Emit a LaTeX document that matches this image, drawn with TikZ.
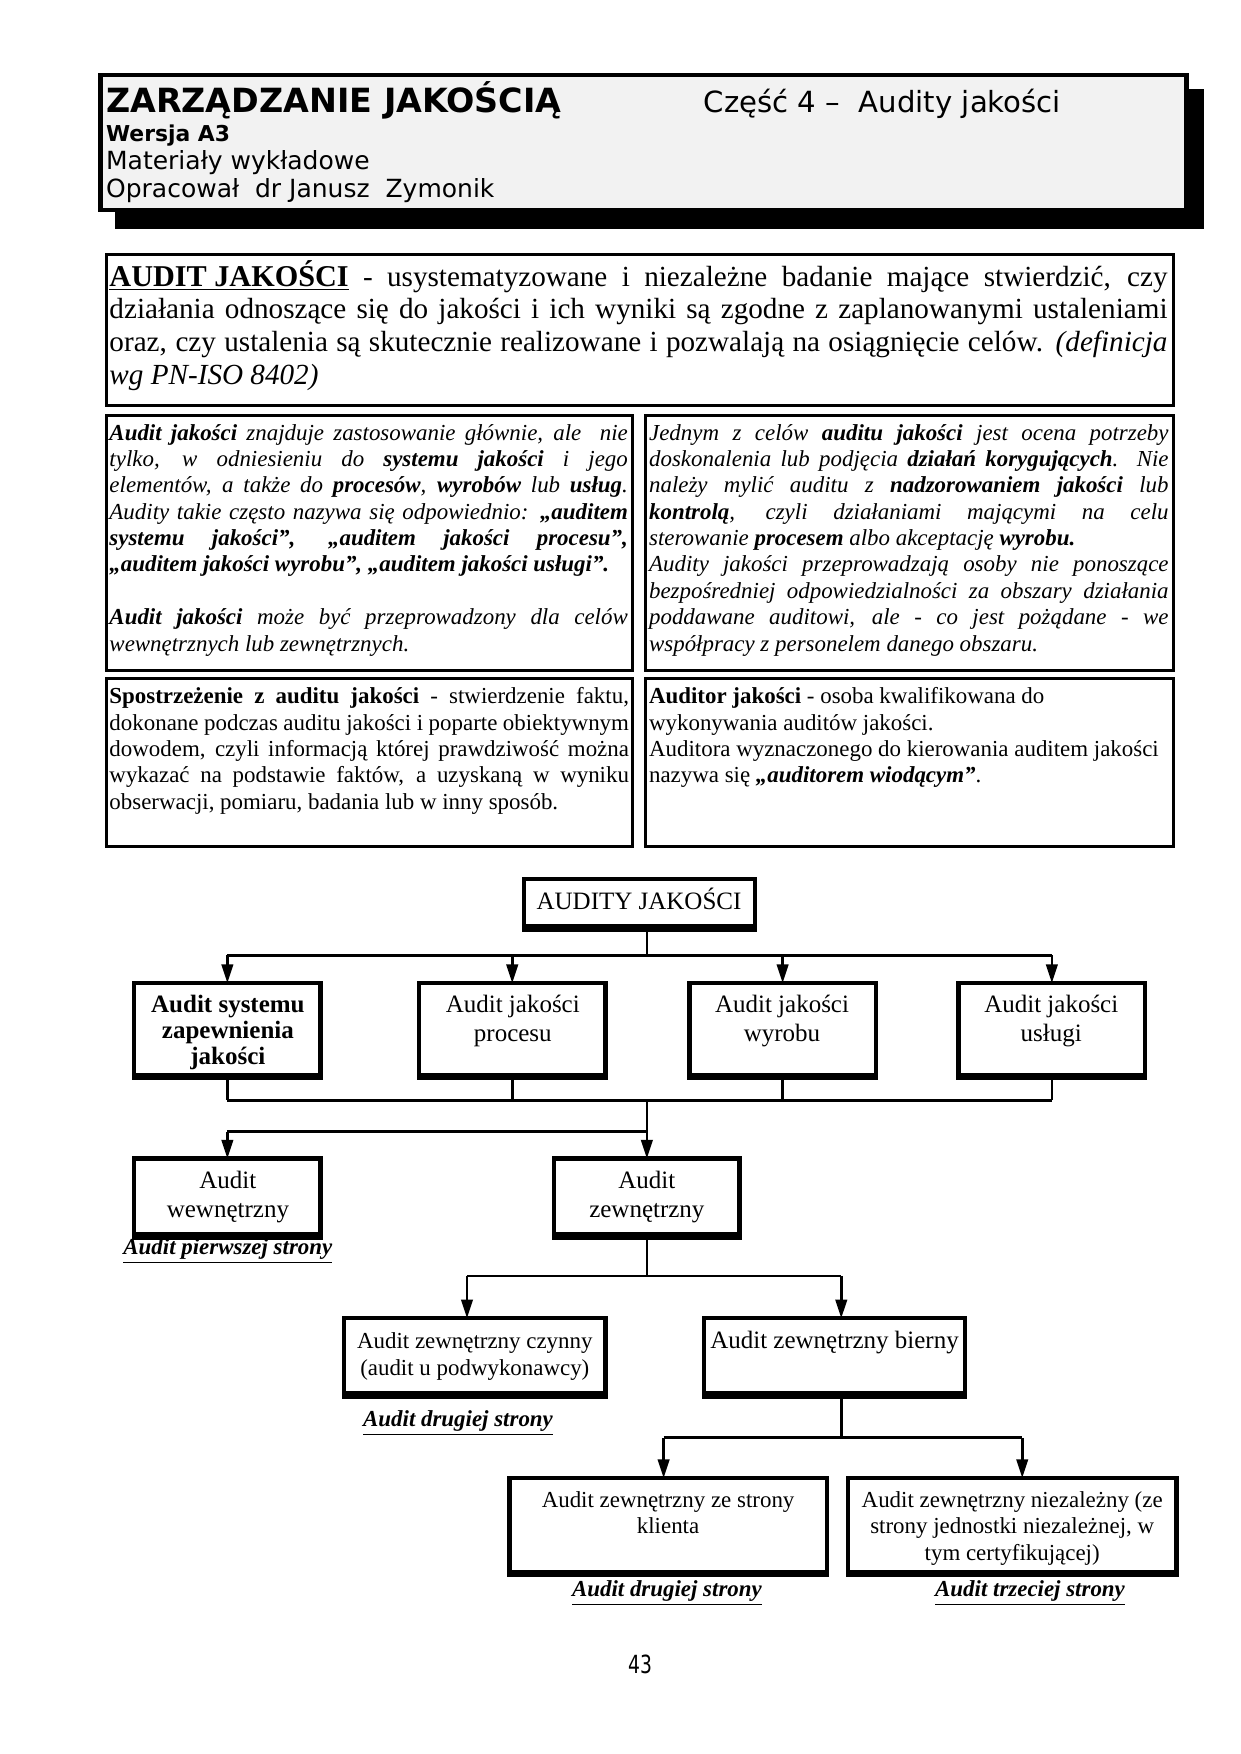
\documentclass[tikz,border=0pt]{standalone}
\usepackage{fontspec}
\setmainfont{Liberation Serif}
\newfontfamily\hdrfont{DejaVu Sans}
\newfontfamily\pgnfont{DejaVu Sans}[FakeStretch=0.75]
\usetikzlibrary{arrows.meta}
\definecolor{hdrgray}{HTML}{F2F2F2}
\newdimen\pxu \pxu=0.53629pt
\def\pxv{0.53629pt}
\newcommand\mkbox[6]{\node[#6, minimum width={(#4-#2)*\pxv}, minimum height={(#5-#3)*\pxv}] (#1) at ({(#2+#4)/2},{(#3+#5)/2}) {};}
\newcommand\cpar[4]{\parbox[t]{#1\pxu}{\centering\fontsize{#4}{#2}\selectfont #3}}
\newcommand\jl[1]{\makebox[\linewidth][s]{#1}}
\begin{document}
\begin{tikzpicture}[x=0.53629pt,y=-0.53629pt,
  frame/.style={draw, line width=2.1pt, inner sep=0pt, outer sep=0pt},
  tbox/.style={draw, line width=1.4pt, inner sep=0pt, outer sep=0pt},
  conn/.style={line width=1.3pt},
  arr/.style={line width=1.3pt, -{Triangle[length=9pt,width=5.5pt]}},
  txt/.style={inner sep=0pt, outer sep=0pt},
  lbl/.style={anchor=base, inner sep=0pt, font=\fontsize{11}{13}\selectfont}]
\useasboundingbox (0,0) rectangle (1110,1570);
\fill[white] (0,0) rectangle (1110,1570);

% ---------- header ----------
\fill[black] (103,80) rectangle (1078,205);
\mkbox{hdr}{90}{67}{1062}{188}{draw, line width=2pt, fill=hdrgray, inner sep=0pt}
\node[txt, anchor=base west, font=\hdrfont\bfseries\fontsize{16}{19}\selectfont] (h1) at (95,101) {ZARZĄDZANIE JAKOŚCIĄ};
\node[txt, anchor=base west, font=\hdrfont\fontsize{14}{17}\selectfont] (h2) at (630,101) {Część 4 –\ \ Audity jakości};
\node[txt, anchor=base west, font=\hdrfont\bfseries\fontsize{10.5}{13}\selectfont] (h3) at (95,127) {Wersja A3};
\node[txt, anchor=base west, font=\hdrfont\fontsize{12}{14}\selectfont] (h4) at (95,152) {Materiały wykładowe};
\node[txt, anchor=base west, font=\hdrfont\fontsize{12}{14}\selectfont] (h5) at (95,177) {Opracował\ \ dr Janusz\ \ Zymonik};

% ---------- definition box ----------
\mkbox{defbox}{95}{228}{1050}{363}{tbox}
\node[txt, anchor=base west] (deftext) at (98,256) {\parbox[t]{947\pxu}{\fontsize{14}{15.7}\selectfont
\jl{{\fontsize{14.5}{15.7}\selectfont\bfseries\underline{AUDIT JAKOŚCI}} - usystematyzowane i niezależne badanie mające stwierdzić, czy}\\
\jl{działania odnoszące się do jakości i ich wyniki są zgodne z zaplanowanymi ustaleniami}\\
\jl{oraz, czy ustalenia są skutecznie realizowane i pozwalają na osiągnięcie celów. \textit{(definicja}}\\
\textit{wg PN-ISO 8402)}}};

% ---------- middle boxes ----------
\mkbox{midL}{95}{372}{566}{600}{tbox}
\mkbox{midR}{578}{372}{1050}{600}{tbox}
\node[txt, anchor=base west] (midLtext) at (98,394) {\parbox[t]{464\pxu}{\fontsize{11}{12.65}\selectfont\itshape
\jl{\textbf{Audit jakości} znajduje zastosowanie głównie, ale\ \ nie}\\
\jl{tylko, w odniesieniu do \textbf{systemu jakości} i jego}\\
\jl{elementów, a także do \textbf{procesów}, \textbf{wyrobów} lub \textbf{usług}.}\\
\jl{Audity takie często nazywa się odpowiednio: \textbf{„auditem}}\\
\jl{\textbf{systemu jakości”, „auditem jakości procesu”,}}\\
\textbf{„auditem jakości wyrobu”, „auditem jakości usługi”.}\\
\mbox{}\\
\jl{\textbf{Audit jakości} może być przeprowadzony dla celów}\\
wewnętrznych lub zewnętrznych.}};
\node[txt, anchor=base west] (midRtext) at (581,394) {\parbox[t]{465\pxu}{\fontsize{11}{12.65}\selectfont\itshape
\jl{Jednym z celów \textbf{auditu jakości} jest ocena potrzeby}\\
\jl{doskonalenia lub podjęcia \textbf{działań korygujących}. Nie}\\
\jl{należy mylić auditu z \textbf{nadzorowaniem jakości} lub}\\
\jl{\textbf{kontrolą}, czyli działaniami mającymi na celu}\\
sterowanie \textbf{procesem} albo akceptację \textbf{wyrobu.}\\
\jl{Audity jakości przeprowadzają osoby nie ponoszące}\\
\jl{bezpośredniej odpowiedzialności za obszary działania}\\
\jl{poddawane auditowi, ale - co jest pożądane - we}\\
współpracy z personelem danego obszaru.}};

% ---------- lower boxes ----------
\mkbox{lowL}{95}{607}{566}{758}{tbox}
\mkbox{lowR}{578}{607}{1050}{758}{tbox}
\node[txt, anchor=base west] (lowLtext) at (98,630) {\parbox[t]{465\pxu}{\fontsize{11}{12.65}\selectfont
\jl{\textbf{Spostrzeżenie z auditu jakości} - stwierdzenie faktu,}\\
\jl{dokonane podczas auditu jakości i poparte obiektywnym}\\
\jl{dowodem, czyli informacją której prawdziwość można}\\
\jl{wykazać na podstawie faktów, a uzyskaną w wyniku}\\
obserwacji, pomiaru, badania lub w inny sposób.}};
\node[txt, anchor=base west] (lowRtext) at (581,630) {\parbox[t]{465\pxu}{\fontsize{11}{12.65}\selectfont
\textbf{Auditor jakości} - osoba kwalifikowana do\\
wykonywania auditów jakości.\\
Auditora wyznaczonego do kierowania auditem jakości\\
nazywa się \textbf{\textit{„auditorem wiodącym”}}.}};

% ---------- flowchart boxes ----------
\mkbox{top}{469}{787}{676}{832}{frame}
\mkbox{b1}{120}{880}{287}{965}{frame}
\mkbox{b2}{375}{880}{542}{965}{frame}
\mkbox{b3}{617}{880}{784}{965}{frame}
\mkbox{b4}{858}{880}{1025}{965}{frame}
\mkbox{wew}{120}{1037}{287}{1108}{frame}
\mkbox{zew}{496}{1037}{662}{1108}{frame}
\mkbox{cz}{308}{1180}{542}{1250}{frame}
\mkbox{bi}{630}{1180}{864}{1250}{frame}
\mkbox{kl}{456}{1323}{740}{1410}{frame}
\mkbox{nz}{759}{1323}{1053}{1410}{frame}
\foreach \b in {top,b1,b2,b3,b4,wew,zew,cz,bi,kl,nz}
  {\draw[line width=2pt] ([yshift=1.6pt]\b.south west) -- ([yshift=1.6pt]\b.south east);}

\node[txt, anchor=base, font=\fontsize{12}{14}\selectfont] (ttop) at (572,814) {AUDITY JAKOŚCI};
\node[txt, anchor=base] (tb1) at (204,906) {\cpar{160}{12.6}{\bfseries Audit systemu\\ zapewnienia\\ jakości}{12}};
\node[txt, anchor=base] (tb2) at (459,906) {\cpar{160}{14.2}{Audit jakości\\ procesu}{12}};
\node[txt, anchor=base] (tb3) at (700,906) {\cpar{160}{14.2}{Audit jakości\\ wyrobu}{12}};
\node[txt, anchor=base] (tb4) at (941,906) {\cpar{160}{14.2}{Audit jakości\\ usługi}{12}};
\node[txt, anchor=base] (twew) at (204,1064) {\cpar{160}{14}{Audit\\ wewnętrzny}{12}};
\node[txt, anchor=base] (tzew) at (579,1064) {\cpar{160}{14}{Audit\\ zewnętrzny}{12}};
\node[txt, anchor=base] (tcz) at (425,1207) {\cpar{230}{12.9}{Audit zewnętrzny czynny\\ (audit u podwykonawcy)}{11}};
\node[txt, anchor=base] (tbi) at (747,1207) {\cpar{230}{12.9}{Audit zewnętrzny bierny}{12}};
\node[txt, anchor=base] (tkl) at (598,1349) {\cpar{280}{12.9}{Audit zewnętrzny ze strony\\ klienta}{11}};
\node[txt, anchor=base] (tnz) at (906,1349) {\cpar{290}{12.9}{Audit zewnętrzny niezależny (ze\\ strony jednostki niezależnej, w\\ tym certyfikującej)}{11}};

\node[lbl] (l1) at (204,1123) {\underline{\textbf{\textit{Audit pierwszej strony}}}};
\node[lbl] (l2) at (410,1277) {\underline{\textbf{\textit{Audit drugiej strony}}}};
\node[lbl] (l3) at (597,1429) {\underline{\textbf{\textit{Audit drugiej strony}}}};
\node[lbl] (l4) at (922,1429) {\underline{\textbf{\textit{Audit trzeciej strony}}}};

% ---------- connectors ----------
\coordinate (j0) at (579,855);
\draw[conn] (j0 |- top.south) -- (j0);
\draw[conn] (j0 -| b1) -- (j0 -| b4);
\foreach \b in {b1,b2,b3,b4} {\draw[arr] (j0 -| \b) -- (\b.north);}

\coordinate (j1) at (579,985);
\foreach \b in {b1,b2,b3,b4} {\draw[conn] (\b.south) -- (\b.south |- j1);}
\draw[conn] (j1 -| b1) -- (j1 -| b4);
\draw[arr] (j1) -- (zew.north);
\coordinate (j2) at (579,1013);
\draw[conn] (j2) -- (j2 -| wew);
\draw[arr] (j2 -| wew) -- (wew.north);

\coordinate (j3) at (579,1142);
\coordinate (k1) at (418,1142);
\coordinate (k2) at (753,1142);
\draw[conn] (zew.south) -- (j3);
\draw[conn] (k1) -- (k2);
\draw[arr] (k1) -- (k1 |- cz.north);
\draw[arr] (k2) -- (k2 |- bi.north);

\coordinate (j4) at (753,1287);
\coordinate (k3) at (594,1287);
\coordinate (k4) at (915,1287);
\draw[conn] (j4 |- bi.south) -- (j4);
\draw[conn] (k3) -- (k4);
\draw[arr] (k3) -- (k3 |- kl.north);
\draw[arr] (k4) -- (k4 |- nz.north);

% ---------- page number ----------
\node[txt, anchor=base, font=\pgnfont\fontsize{12}{14}\selectfont] (pgn) at (573,1498) {43};
\end{tikzpicture}
\end{document}
